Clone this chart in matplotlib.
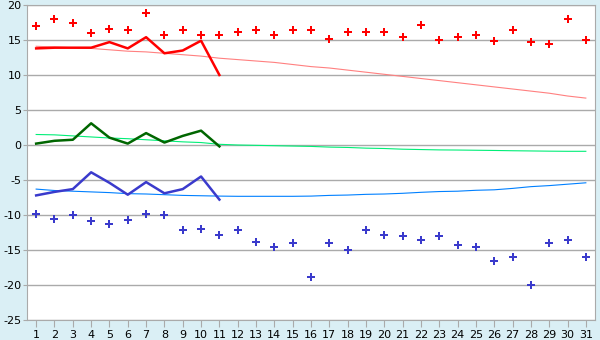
import numpy as np
import matplotlib
matplotlib.use("Agg")
import matplotlib.pyplot as plt

plt.rcParams["axes.unicode_minus"] = False

days = list(range(1, 32))

# daily maximum (red points) and minimum (blue points)
t_max = [17.0, 18.0, 17.4, 16.0, 16.6, 16.5, 18.8, 15.7, 16.4, 15.7, 15.7,
         16.2, 16.5, 15.7, 16.4, 16.4, 15.2, 16.1, 16.1, 16.2, 15.5, 17.2,
         15.0, 15.4, 15.7, 14.8, 16.4, 14.7, 14.4, 18.0, 15.0]
t_min = [-9.9, -10.5, -10.0, -10.8, -11.3, -10.7, -9.8, -10.0, -12.2, -12.0,
         -12.8, -12.2, -13.8, -14.6, -14.0, -18.9, -14.0, -15.0, -12.2, -12.8,
         -13.0, -13.6, -13.0, -14.3, -14.5, -16.6, -16.0, -20.0, -14.0, -13.6, -16.0]

# current-month lines (days 1-11)
cur_days = days[:11]
cur_max = [13.8, 13.9, 13.9, 13.9, 14.7, 13.8, 15.4, 13.1, 13.5, 14.9, 10.0]
cur_mean = [0.2, 0.6, 0.75, 3.1, 1.05, 0.2, 1.7, 0.35, 1.3, 2.05, -0.2]
cur_min = [-7.2, -6.7, -6.3, -3.9, -5.4, -7.1, -5.3, -6.9, -6.3, -4.5, -7.8]

# long-term normals (thin lines)
norm_max = [14.1, 14.0, 13.9, 13.8, 13.6, 13.4, 13.3, 13.1, 12.9, 12.7, 12.4,
            12.2, 12.0, 11.8, 11.5, 11.2, 11.0, 10.7, 10.4, 10.1, 9.8, 9.5,
            9.2, 8.9, 8.6, 8.3, 8.0, 7.7, 7.4, 7.0, 6.7]
norm_mean = [1.5, 1.45, 1.3, 1.15, 1.0, 0.9, 0.75, 0.6, 0.45, 0.35, 0.1,
             0.0, -0.05, -0.1, -0.15, -0.2, -0.3, -0.35, -0.45, -0.5, -0.6,
             -0.65, -0.7, -0.72, -0.75, -0.78, -0.82, -0.85, -0.88, -0.9, -0.9]
norm_min = [-6.3, -6.5, -6.6, -6.7, -6.8, -6.95, -7.0, -7.1, -7.2, -7.25, -7.3,
            -7.33, -7.33, -7.33, -7.33, -7.3, -7.2, -7.15, -7.05, -7.0, -6.9,
            -6.76, -6.65, -6.6, -6.47, -6.4, -6.2, -5.95, -5.8, -5.6, -5.4]

bg = "#daeff5"
fig = plt.figure(figsize=(6, 3.4), dpi=100, facecolor=bg)
ax = fig.add_axes([27/600, 20/340, 568/600, 315/340])
ax.set_facecolor("white")

ax.plot(days, norm_max, color="#ff8080", lw=0.8, zorder=2)
ax.plot(days, norm_mean, color="#00ee77", lw=0.8, zorder=2)
ax.plot(days, norm_min, color="#0080ff", lw=0.8, zorder=2)

ax.plot(cur_days, cur_max, color="#ff0000", lw=1.8, zorder=3)
ax.plot(cur_days, cur_mean, color="#006600", lw=1.8, zorder=3)
ax.plot(cur_days, cur_min, color="#3a3acc", lw=1.8, zorder=3)

ax.plot(days, t_max, ls="none", marker="P", ms=6, mew=0, color="#ff0000", zorder=4)
ax.plot(days, t_min, ls="none", marker="P", ms=5.5, mew=0, color="#3a3acc", zorder=4)

ax.set_xlim(0.5, 31.5)
ax.set_ylim(-25, 20)
ax.set_xticks(days)
ax.set_yticks(np.arange(-25, 21, 5))
ax.yaxis.grid(True, color="#aaaaaa", lw=1)
ax.set_axisbelow(True)
for s in ax.spines.values():
    s.set_color("#aaaaaa")
ax.tick_params(axis="both", colors="#aaaaaa", labelcolor="black", labelsize=8)
ax.tick_params(axis="x", length=5, pad=2)
ax.tick_params(axis="y", length=3, pad=1)

fig.savefig("out.png", dpi=100, facecolor=bg)
